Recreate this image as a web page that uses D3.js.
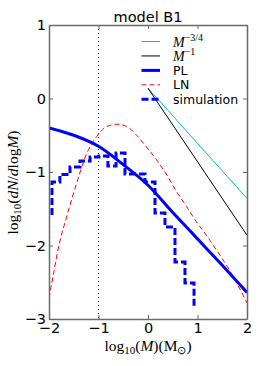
<html><head>
<meta charset="utf-8">
<title>model B1</title>
<style>
  body, html { margin: 0; padding: 0; background: #fff; }
  svg { display: block; }
  .tick text { font-family: 'DejaVu Sans', sans-serif; font-size: 14.5px; fill: #000; }
  .math { font-family: 'Liberation Serif', serif; }
</style>
<script src="https://d3js.org/d3.v7.min.js"></script>
</head>
<body>
<div id="chart"></div>
<script>
// ticks
const xTicks = [-2, -1, 0, 1, 2];
const yTicks = [-3, -2, -1, 0, 1];

// PL model (log10 M, log10 dN/dlogM)
const plLogM = [-2, -1.5, -1, -0.5, 0, 0.5, 1, 1.5, 2];
const plLogN = [-0.40, -0.50, -0.65, -0.90, -1.18, -1.55, -1.91, -2.27, -2.64];

// LN model
const lnLogM = [-2.0, -1.9, -1.8, -1.64, -1.44, -1.24, -1.04, -0.83, -0.63, -0.43, -0.23, -0.03, 0.18, 0.38, 0.58, 0.78, 0.98, 1.19, 1.32, 1.66, 2.0];
const lnLogN = [-2.72, -2.35, -2.0, -1.6, -1.15, -0.75, -0.52, -0.38, -0.35, -0.38, -0.50, -0.66, -0.84, -1.04, -1.27, -1.47, -1.68, -1.87, -2.0, -2.35, -2.78];

// simulation histogram (bin left edges, drawn as steps)
const simLogM = [-1.94, -1.94, -1.78, -1.576, -1.374, -1.17, -0.99, -0.81, -0.646, -0.465, -0.26, -0.06, 0.141, 0.343, 0.545, 0.747, 0.93];
const simLogN = [-1.585, -1.136, -1.034, -0.932, -0.85, -0.796, -0.782, -0.918, -0.741, -1.027, -1.027, -1.136, -1.558, -1.748, -2.224, -2.51, -2.85];

// reference power laws
const guideLogM = [0, 2];
const m34LogN = [0.14, -1.36];
const m1LogN = [0.14, -1.86];

const cutLogM = -1;

const width = 262, height = 366;
const svg = d3.select("#chart").append("svg")
  .attr("width", width).attr("height", height);
svg.append("rect").attr("width", width).attr("height", height).attr("fill", "#fff");

const x = d3.scaleLinear().domain([-2, 2]).range([49, 247]);
const y = d3.scaleLinear().domain([-3, 1]).range([319, 25]);

svg.append("clipPath").attr("id", "plot-clip")
  .append("rect").attr("x", 49).attr("y", 25).attr("width", 198).attr("height", 294);

const plot = svg.append("g").attr("clip-path", "url(#plot-clip)");

const zip = (a, b) => a.map((v, i) => [v, b[i]]);
const line = d3.line().x(d => x(d[0])).y(d => y(d[1]));

// vertical marker
plot.append("line")
  .attr("x1", x(cutLogM)).attr("x2", x(cutLogM))
  .attr("y1", y(1)).attr("y2", y(-3))
  .attr("stroke", "#333").attr("stroke-width", 1)
  .attr("stroke-dasharray", "1,3");

plot.append("path").datum(zip(guideLogM, m34LogN))
  .attr("d", line).attr("fill", "none")
  .attr("stroke", "#00bfbf").attr("stroke-width", 1);

plot.append("path").datum(zip(guideLogM, m1LogN))
  .attr("d", line).attr("fill", "none")
  .attr("stroke", "#000").attr("stroke-width", 1);

plot.append("path").datum(zip(lnLogM, lnLogN))
  .attr("d", line.curve(d3.curveMonotoneX)).attr("fill", "none")
  .attr("stroke", "#ff0000").attr("stroke-width", 1)
  .attr("stroke-dasharray", "5,3");

plot.append("path").datum(zip(plLogM, plLogN))
  .attr("d", line.curve(d3.curveMonotoneX)).attr("fill", "none")
  .attr("stroke", "#0000ff").attr("stroke-width", 3);

plot.append("path").datum(zip(simLogM, simLogN))
  .attr("d", line.curve(d3.curveStepAfter)).attr("fill", "none")
  .attr("stroke", "#0000ff").attr("stroke-width", 3)
  .attr("stroke-dasharray", "7,3");

// axes, ticks inside on all sides
const axisColor = "#6a6a6a";
const fmt = d3.format("d");
const axes = [
  svg.append("g").attr("transform", `translate(0,${y(-3)})`)
    .call(d3.axisBottom(x).tickValues(xTicks).tickSize(-4).tickSizeOuter(0).tickPadding(4).tickFormat(fmt)),
  svg.append("g").attr("transform", `translate(0,${y(1)})`)
    .call(d3.axisTop(x).tickValues(xTicks).tickSize(-4).tickSizeOuter(0).tickFormat("")),
  svg.append("g").attr("transform", `translate(${x(-2)},0)`)
    .call(d3.axisLeft(y).tickValues(yTicks).tickSize(-4).tickSizeOuter(0).tickPadding(3).tickFormat(fmt)),
  svg.append("g").attr("transform", `translate(${x(2)},0)`)
    .call(d3.axisRight(y).tickValues(yTicks).tickSize(-4).tickSizeOuter(0).tickFormat(""))
];
axes.forEach(a => {
  a.select(".domain").attr("stroke", axisColor).attr("stroke-width", 1.5);
  a.selectAll(".tick line").attr("stroke", axisColor).attr("stroke-width", 1);
  a.attr("font-family", null).attr("font-size", null);
});

// title
svg.append("text")
  .attr("x", 148).attr("y", 21.5)
  .attr("text-anchor", "middle")
  .attr("font-family", "'DejaVu Sans', sans-serif")
  .attr("font-size", 14.5)
  .text("model B1");

// x label: log10(M)(M_sun)
const xl = svg.append("text").attr("class", "math")
  .attr("x", 148).attr("y", 350.5)
  .attr("text-anchor", "middle")
  .attr("font-size", 15.5);
xl.append("tspan").text("log");
xl.append("tspan").attr("font-size", 11).attr("dy", 3).text("10");
xl.append("tspan").attr("dy", -3).text("(");
xl.append("tspan").attr("font-style", "italic").text("M");
xl.append("tspan").text(")(M");
xl.append("tspan").attr("font-size", 11).attr("dy", 3).text("\u2299");
xl.append("tspan").attr("dy", -3).text(")");

// y label: log10(dN/dlogM)
const yl = svg.append("text").attr("class", "math")
  .attr("transform", "translate(17.5,182.5) rotate(-90)")
  .attr("text-anchor", "middle")
  .attr("font-size", 15.5);
yl.append("tspan").text("log");
yl.append("tspan").attr("font-size", 11).attr("dy", 3).text("10");
yl.append("tspan").attr("dy", -3).text("(");
yl.append("tspan").attr("font-style", "italic").text("dN");
yl.append("tspan").text("/");
yl.append("tspan").attr("font-style", "italic").text("d");
yl.append("tspan").text("log");
yl.append("tspan").attr("font-style", "italic").text("M");
yl.append("tspan").text(")");

// legend
const legendItems = [
  { key: "m34", color: "#00bfbf", width: 1, dash: null },
  { key: "m1", color: "#000", width: 1, dash: null },
  { key: "PL", color: "#0000ff", width: 3, dash: null },
  { key: "LN", color: "#ff0000", width: 1, dash: "5,3" },
  { key: "simulation", color: "#0000ff", width: 3, dash: "7,3" }
];
const legend = svg.append("g");
legendItems.forEach((it, i) => {
  const ly = 41.5 + i * 14.45;
  legend.append("line")
    .attr("x1", 141.5).attr("x2", 160).attr("y1", ly).attr("y2", ly)
    .attr("stroke", it.color).attr("stroke-width", it.width)
    .attr("stroke-dasharray", it.dash);
  if (it.key === "m34" || it.key === "m1") {
    const t = legend.append("text").attr("class", "math")
      .attr("x", 173).attr("y", ly + 5).attr("font-size", 14);
    t.append("tspan").attr("font-style", "italic").text("M");
    t.append("tspan").attr("font-size", 10).attr("dy", -6)
      .text(it.key === "m34" ? "\u22123/4" : "\u22121");
  } else {
    legend.append("text")
      .attr("x", 173).attr("y", ly + 4.5)
      .attr("font-family", "'DejaVu Sans', sans-serif")
      .attr("font-size", 12.5)
      .text(it.key);
  }
});
</script>
</body></html>
